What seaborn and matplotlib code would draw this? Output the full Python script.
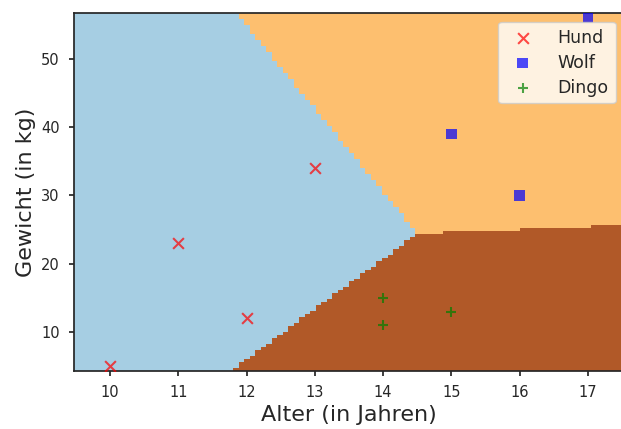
import numpy as np
import pandas as pd
import matplotlib
matplotlib.use("Agg")
import matplotlib.pyplot as plt
import seaborn as sns

# Beobachtungen: Alter (Jahre), Gewicht (kg), Art
alter = [10, 11, 12, 13, 15, 16, 17, 14, 14, 15]
gewicht = [5, 23, 12, 34, 39, 30, 56, 15, 11, 13]
art = ["Hund", "Hund", "Hund", "Hund", "Wolf", "Wolf", "Wolf", "Dingo", "Dingo", "Dingo"]
klassen = ["Hund", "Wolf", "Dingo"]
farben = ["red", "blue", "green"]
marker = ["x", "s", "+"]

# Lineares Modell (eine Entscheidungsfunktion je Klasse): w_alter, w_gewicht, b
w_alter = [0.0, 3.225, 3.5212]
w_gewicht = [0.0, 0.265, -0.4753]
b = [0.0, -53.242, -39.436]

x_grenzen = (9.47, 17.53)
y_grenzen = (4.3, 56.7)
spalten, zeilen = 100, 120

df = pd.DataFrame({"Alter": alter, "Gewicht": gewicht, "Art": art})

sns.set_theme(style="ticks")
plt.rcParams["font.family"] = ["DejaVu Sans"]

fig = plt.figure(figsize=(6.21, 4.29), dpi=100)
ax = fig.add_axes([0.1187, 0.1352, 0.8865, 0.8345])

# Entscheidungsregionen auf einem Gitter auswerten
xe = np.linspace(*x_grenzen, spalten + 1)
ye = np.linspace(*y_grenzen, zeilen + 1)
xc = (xe[:-1] + xe[1:]) / 2
yc = (ye[:-1] + ye[1:]) / 2
XX, YY = np.meshgrid(xc, yc)
scores = np.stack([wa * XX + wg * YY + bb for wa, wg, bb in zip(w_alter, w_gewicht, b)])
Z = np.argmax(scores, axis=0)
ax.pcolormesh(xe, ye, Z, cmap="Paired", vmin=0, vmax=2, shading="flat")

for klasse, farbe, m in zip(klassen, farben, marker):
    teil = df[df["Art"] == klasse]
    kw = dict(edgecolor="none") if m == "s" else dict(linewidth=1.5)
    sns.scatterplot(
        data=teil, x="Alter", y="Gewicht", color=farbe, marker=m,
        s=60, alpha=0.7, ax=ax, zorder=3, label=klasse, legend=False, **kw,
    )

ax.legend(loc="upper right", fontsize=12.5, framealpha=0.8,
          handletextpad=1.0, labelspacing=0.4)

ax.set_xlim(*x_grenzen)
ax.set_ylim(*y_grenzen)
ax.set_xticks(range(10, 18))
ax.set_yticks([10, 20, 30, 40, 50])
ax.tick_params(labelsize=10.5, length=3.5, pad=6.5, color=".15")
ax.set_xlabel("Alter (in Jahren)", fontsize=16)
ax.set_ylabel("Gewicht (in kg)", fontsize=16)
for s in ax.spines.values():
    s.set_color(".15")

fig.savefig("out.png", dpi=100)
